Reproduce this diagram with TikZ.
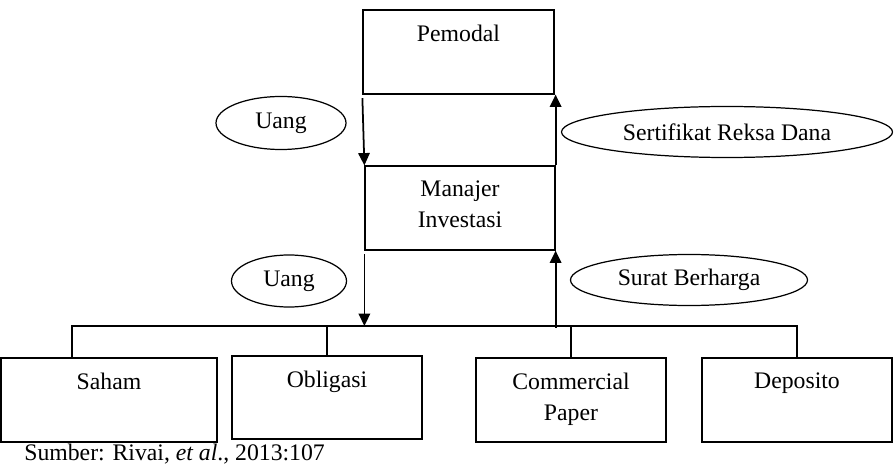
\documentclass[tikz,border=0pt]{standalone}
\usepackage{fontspec}
\setmainfont{Liberation Serif}
\usepackage{tikz}
\usetikzlibrary{arrows.meta, shapes.geometric, positioning, calc}

\tikzset{
  box/.style={draw, line width=0.7pt, minimum width=3.8cm, minimum height=1.68cm, inner sep=0pt},
  toptext/.style={anchor=north, inner sep=0pt, yshift=-0.3cm, align=center},
  oval/.style={draw, ellipse, line width=0.7pt, inner sep=0pt, minimum height=1.04cm},
  arr/.style={-{Triangle[width=6.5pt,length=7pt]}, line width=1pt}
}

\begin{document}
\begin{tikzpicture}[font=\fontsize{13.5}{17.6}\selectfont]
  \useasboundingbox (0,0) rectangle (17.9,9.32);

  % top part
  \node[box, minimum width=3.82cm, label={[toptext]north:Pemodal}]
      (pemodal) at (9.17,8.28) {};
  \node[box, label={[toptext]north:Manajer\\Investasi}]
      (manajer) at (9.20,5.16) {};

  \node[oval, minimum width=2.6cm, minimum height=1.06cm]
      (uang1) at (5.62,6.86) {Uang};
  \node[oval, minimum width=6.62cm, minimum height=1.02cm]
      (sertifikat) at (14.54,6.68) {Sertifikat Reksa Dana};

  \draw[arr] ([yshift=-2pt]pemodal.south west) -- (manajer.north west);
  \draw[arr] (manajer.north east) -- (manajer.north east |- pemodal.south);

  % bottom part
  \node[box, minimum width=4.32cm, label={[toptext]north:Saham}]
      (saham) at (2.18,1.32) {};
  \node[box, minimum height=1.66cm, label={[toptext]north:Obligasi}]
      (obligasi) at (6.54,1.37) {};
  \node[box, label={[toptext]north:Commercial\\Paper}]
      (commercial) at (11.42,1.32) {};
  \node[box, label={[toptext]north:Deposito}]
      (deposito) at (15.94,1.32) {};

  \node[oval, minimum width=2.3cm]
      (uang2) at (5.78,3.70) {Uang};
  \node[oval, minimum width=4.74cm, minimum height=1.02cm]
      (surat) at (13.78,3.72) {Surat Berharga};

  \coordinate (bus) at (9.2,2.80);
  \draw[line width=0.7pt] ([xshift=-0.74cm]saham.north) |- (bus) -| (deposito.north);
  \draw[line width=0.7pt] (obligasi.north) -- (obligasi.north |- bus);
  \draw[line width=0.7pt] (commercial.north) -- (commercial.north |- bus);

  \draw[arr] ([yshift=-2pt]manajer.south west) -- (manajer.south west |- bus);
  \draw[arr] ([yshift=-1pt]manajer.south east |- bus) -- (manajer.south east);

  \node[anchor=base west, inner sep=0pt] (sumber) at (0.48,0.11)
      {Sumber: Rivai, \textit{et al}., 2013:107};
\end{tikzpicture}
\end{document}
